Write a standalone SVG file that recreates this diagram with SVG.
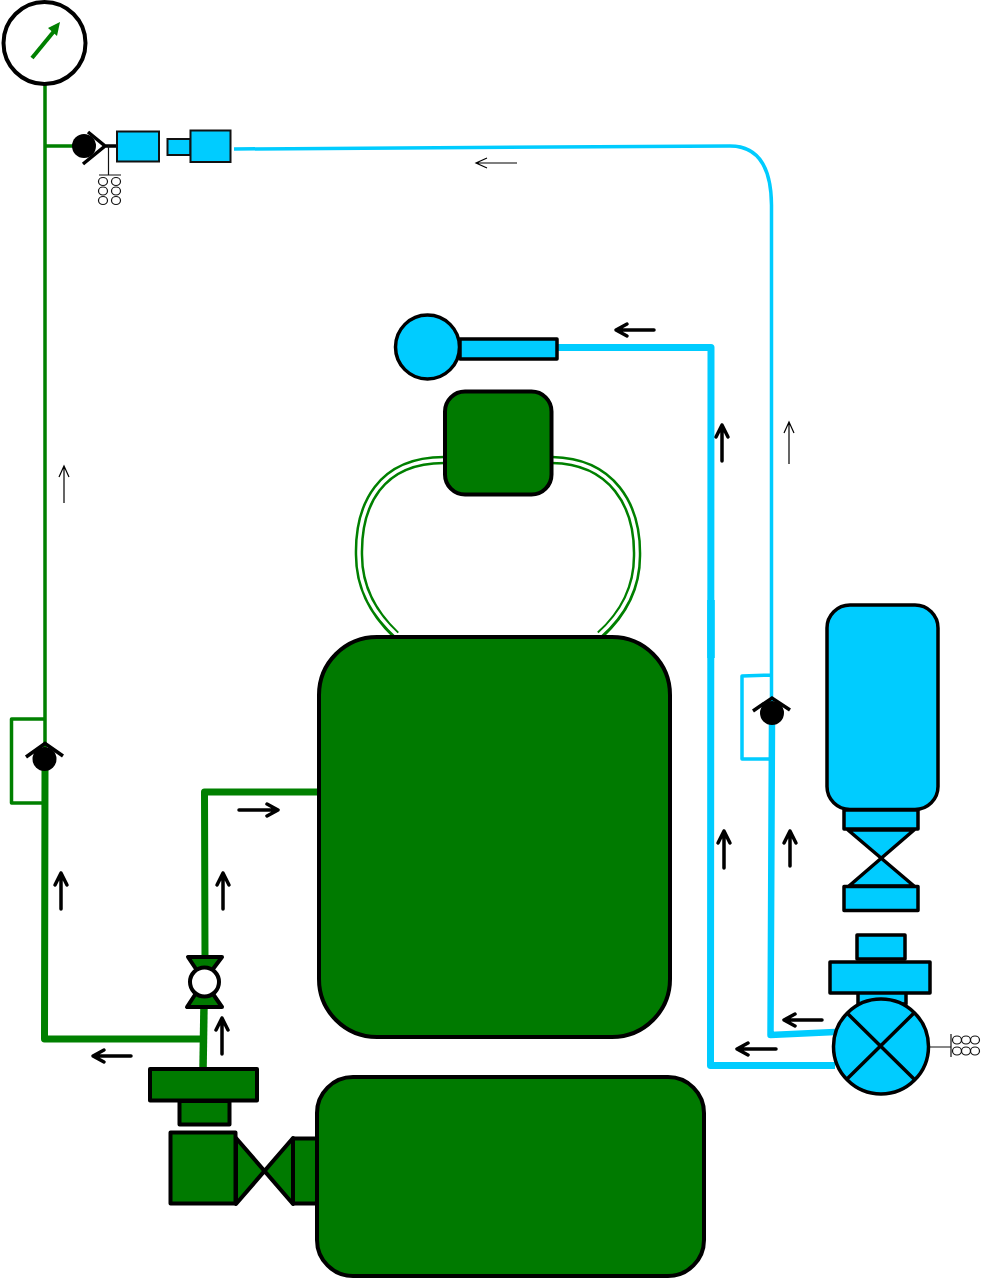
<svg xmlns="http://www.w3.org/2000/svg" width="981" height="1279" viewBox="0 0 981 1279">
<style>
.g{fill:#007a00;stroke:#000;stroke-width:4;stroke-linejoin:round}
.c{fill:#00ccff;stroke:#000;stroke-width:3.5;stroke-linejoin:round}
.c2{fill:#00ccff;stroke:#111;stroke-width:2}
.pg{fill:none;stroke:#008000;stroke-linejoin:round}
.pc{fill:none;stroke:#00ccff;stroke-linejoin:round}
.a{fill:none;stroke:#000;stroke-width:3.500;stroke-linecap:round;stroke-linejoin:round}
.t{fill:none;stroke:#000;stroke-width:1.200}
.k{fill:none;stroke:#000;stroke-width:3.500;stroke-linecap:butt;stroke-linejoin:miter}
.s{fill:none;stroke:#111;stroke-width:1.200}
</style>
<rect width="981" height="1279" fill="#fff"/>
<g id="connectors">
<path class="pg" stroke-width="3.5" d="M45 84V755M45 146H85M45 719H11.500V803H45"/>
<path class="pg" stroke-width="7" d="M45 770L44.500 1039H203M205 958L204.500 792H320"/>
<path class="pg" stroke-width="7.500" d="M204 1005L203 1070"/>
<path class="pc" stroke-width="3.500" d="M234 149L730 146Q771 146 771.500 205V710M771 675L742 676V759H771"/>
<path class="pc" stroke-width="7" d="M557 347.500H711L710.500 1065.500H835"/>
<path class="pc" stroke-width="7.500" d="M711 600V658"/>
<path class="pc" stroke-width="6.500" d="M772 720L770.500 1035L835 1032"/>
<path fill="none" stroke="#008000" stroke-width="8.500" d="M444 460C380 460 358 505 359 555C359 590 375 615 396 635"/>
<path fill="none" stroke="#fff" stroke-width="3.500" d="M444 460C380 460 358 505 359 555C359 590 375 615 398 636"/>
<path fill="none" stroke="#008000" stroke-width="8.500" d="M552 460C612 461 638 505 637 556C637 590 622 615 600 635"/>
<path fill="none" stroke="#fff" stroke-width="3.500" d="M552 460C612 461 638 505 637 556C637 590 622 615 598 636"/>
</g>
<g id="gauge">
<circle cx="44.500" cy="43" r="41" fill="#fff" stroke="#000" stroke-width="4"/>
<path d="M32 58L55 30" stroke="#008000" stroke-width="4" fill="none"/>
<path d="M60 22L57 36L48 28Z" fill="#008000"/>
</g>
<g id="check-valve-top">
<circle cx="84" cy="146" r="12" fill="#000"/>
<path class="k" d="M88 132L105 146L83 164M105 146H117"/>
<path class="s" d="M108.500 146V175M99 175H121"/>
<g class="s"><ellipse cx="103" cy="181.500" rx="4.500" ry="4"/><ellipse cx="116" cy="181.500" rx="4.500" ry="4"/><ellipse cx="103" cy="191" rx="4.500" ry="4"/><ellipse cx="116" cy="191" rx="4.500" ry="4"/><ellipse cx="103" cy="200.500" rx="4.500" ry="4"/><ellipse cx="116" cy="200.500" rx="4.500" ry="4"/></g>
</g>
<g id="cyan-block-1"><rect class="c2" x="117" y="131.500" width="42" height="30"/></g>
<g id="cyan-block-2"><rect class="c2" x="167.500" y="139" width="23" height="16"/><rect class="c2" x="190.500" y="130.500" width="40" height="31.500"/></g>
<g id="check-valve-left">
<circle cx="44.500" cy="759" r="12" fill="#000"/>
<path class="k" d="M26 757L45 743.500L63 756"/>
</g>
<g id="check-valve-right">
<circle cx="772" cy="713" r="12" fill="#000"/>
<path class="k" d="M753 711L772 698L790 710"/>
</g>
<g id="cyan-actuator"><circle class="c" cx="427.500" cy="347" r="32"/><rect class="c" x="460" y="339" width="97" height="20"/></g>
<g id="small-tank"><rect class="g" x="445" y="391.500" width="106.500" height="103" rx="20"/></g>
<g id="large-tank"><rect class="g" x="319" y="637" width="351" height="400" rx="58"/></g>
<g id="lower-tank"><rect class="g" x="317" y="1077" width="387" height="199" rx="36"/></g>
<g id="pilot-valve">
<path class="g" d="M188 957H222L204 981ZM187 1007H222L204 981Z"/>
<circle cx="204.500" cy="982" r="14.500" fill="#fff" stroke="#000" stroke-width="4"/>
</g>
<g id="green-pump">
<rect class="g" x="150" y="1069" width="107" height="31.500"/>
<rect class="g" x="179.500" y="1101" width="50" height="23.500"/>
<rect class="g" x="170.500" y="1132.500" width="65" height="71"/>
<path class="g" d="M236 1138L293 1204V1138L236 1204Z"/>
<rect class="g" x="293" y="1138.500" width="24" height="65"/>
</g>
<g id="cyan-bottle">
<rect class="c" x="827" y="605" width="111" height="204.500" rx="23"/>
<rect class="c" x="844" y="810" width="74" height="19"/>
<path class="c" d="M848 830H914L849 886H914Z"/>
<rect class="c" x="844" y="886.500" width="74" height="24"/>
</g>
<g id="cyan-valve">
<rect class="c" x="857" y="935" width="48" height="24"/>
<rect class="c" x="858" y="990" width="48" height="14"/>
<rect class="c" x="830" y="962" width="100" height="31"/>
<circle class="c" cx="881" cy="1046.500" r="47.500"/>
<path class="k" d="M847 1013L914 1079M914 1013L847 1079"/>
<path class="s" d="M930 1047H951M951 1034V1057"/>
<g class="s"><ellipse cx="957" cy="1040" rx="4.500" ry="4"/><ellipse cx="966" cy="1040" rx="4.500" ry="4"/><ellipse cx="975" cy="1040" rx="4.500" ry="4"/><ellipse cx="957" cy="1051" rx="4.500" ry="4"/><ellipse cx="966" cy="1051" rx="4.500" ry="4"/><ellipse cx="975" cy="1051" rx="4.500" ry="4"/></g>
</g>
<g id="flow-arrows">
<path class="a" d="M654 330H616M627 324L616 330L627 336"/>
<path class="a" d="M722 461V425M716 437L722 425L728 437"/>
<path class="a" d="M724 868V831M718 843L724 831L730 843"/>
<path class="a" d="M790 866V831M784 843L790 831L796 843"/>
<path class="a" d="M822 1020H784M795 1014L784 1020L795 1026"/>
<path class="a" d="M776 1049H737M748 1043L737 1049L748 1055"/>
<path class="a" d="M61 909V873M55 885L61 873L67 885"/>
<path class="a" d="M223 909V873M217 885L223 873L229 885"/>
<path class="a" d="M222 1054V1018M216 1030L222 1018L228 1030"/>
<path class="a" d="M239 810H278M267 804L278 810L267 816"/>
<path class="a" d="M131 1056H93M104 1050L93 1056L104 1062"/>
<path class="t" d="M517 163H476M487 158L476 163L487 168"/>
<path class="t" d="M789 464V422M784 433L789 422L794 433"/>
<path class="t" d="M64 503V466M59 477L64 466L69 477"/>
</g>
</svg>
